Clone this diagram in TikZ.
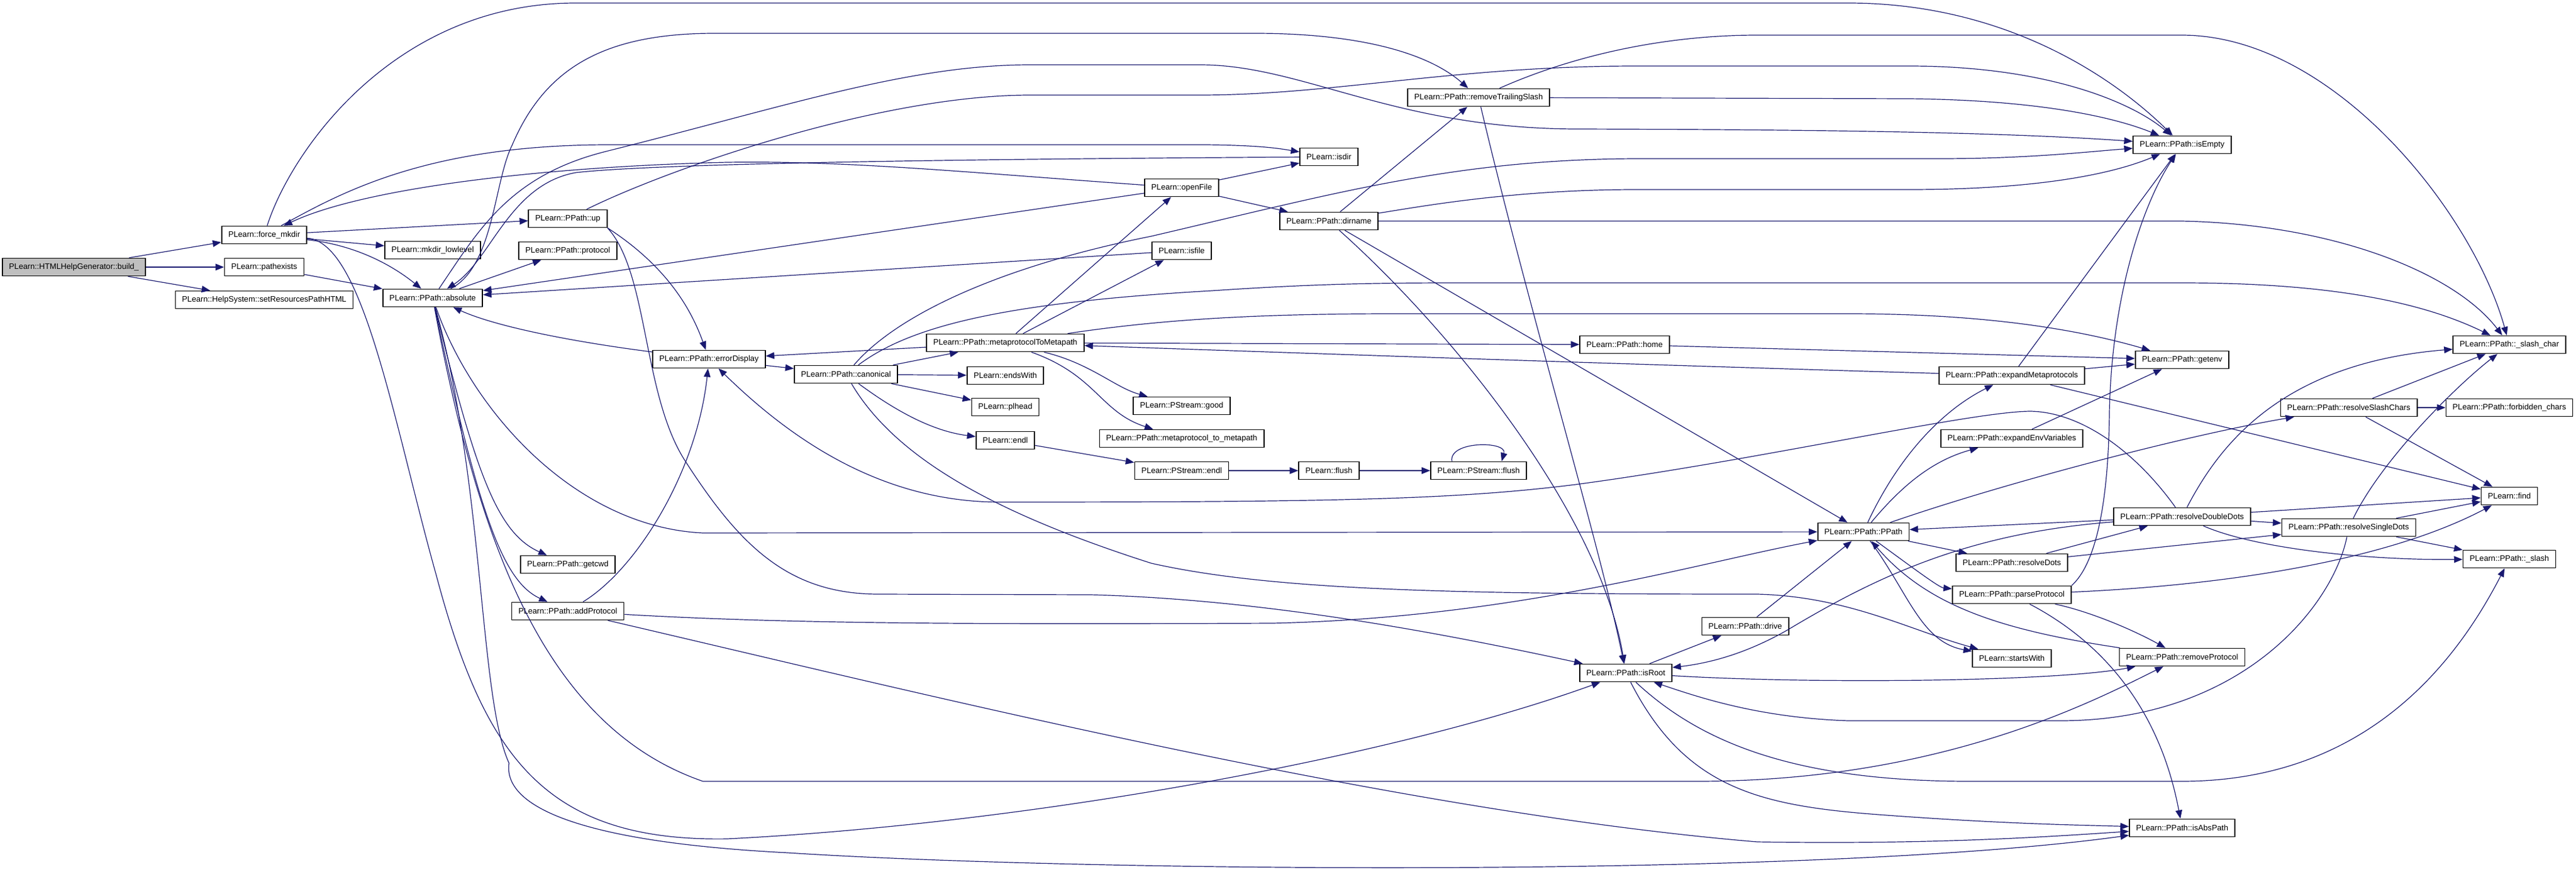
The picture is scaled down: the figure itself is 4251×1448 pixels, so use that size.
\documentclass[tikz,border=0pt]{standalone}
\usepackage{fontspec}
\setmainfont{Liberation Sans}
\usepackage{xcolor}
\usepackage{tikz}
\usetikzlibrary{positioning,arrows.meta}
\definecolor{edgeblue}{HTML}{191970}
\definecolor{rootgray}{HTML}{BFBFBF}
\newcommand{\fnsize}{\fontsize{13.15pt}{15pt}\selectfont}

\begin{document}
\begin{tikzpicture}[x=1pt,y=-1pt,>={Triangle[length=14pt,width=11pt]},
    every node/.style={on grid},
    fn/.style={draw=black,line width=1.7pt,fill=white,minimum height=29pt,inner xsep=11pt,inner ysep=0pt,font=\fnsize},
    root/.style={fn,fill=rootgray},
    call/.style={->,draw=edgeblue,line width=1.2pt}]
    \path[use as bounding box,fill=white] (0,0) rectangle (4251,1448);
    % functions
    \node[root] (B) at (122,441) {PLearn::HTMLHelpGenerator::build\_};
    \node[fn] (FM) at (436,388) {PLearn::force\_mkdir};
    \node[fn,below of=FM,node distance=53pt] (PE) {PLearn::pathexists};
    \node[fn,below of=PE,node distance=54pt] (SR) {PLearn::HelpSystem::setResourcesPathHTML};
    \node[fn] (ML) at (714,413) {PLearn::mkdir\_lowlevel};
    \node[fn,below of=ML,node distance=79pt] (AB) {PLearn::PPath::absolute};
    \node[fn] (UP) at (937,361) {PLearn::PPath::up};
    \node[fn,below of=UP,node distance=53pt] (PR) {PLearn::PPath::protocol};
    \node[fn] (GC) at (937,932) {PLearn::PPath::getcwd};
    \node[fn,below of=GC,node distance=77pt] (AP) {PLearn::PPath::addProtocol};
    \node[fn] (ED) at (1170,593) {PLearn::PPath::errorDisplay};
    \node[fn] (CA) at (1396,618) {PLearn::PPath::canonical};
    \node[fn] (MM) at (1659,566) {PLearn::PPath::metaprotocolToMetapath};
    \node[fn,below of=MM,node distance=54pt] (EW) {PLearn::endsWith};
    \node[fn,below of=EW,node distance=52pt] (PH) {PLearn::plhead};
    \node[fn,below of=PH,node distance=55pt] (EL) {PLearn::endl};
    \node[fn] (OF) at (1950,310) {PLearn::openFile};
    \node[fn,below of=OF,node distance=104pt] (IF) {PLearn::isfile};
    \node[fn] (GD) at (1950,670) {PLearn::PStream::good};
    \node[fn,below of=GD,node distance=54pt] (MT) {PLearn::PPath::metaprotocol\_to\_metapath};
    \node[fn,below of=MT,node distance=53pt] (SE) {PLearn::PStream::endl};
    \node[fn] (ID) at (2193,259) {PLearn::isdir};
    \node[fn,below of=ID,node distance=106pt] (DN) {PLearn::PPath::dirname};
    \node[fn] (FL) at (2193,777) {PLearn::flush};
    \node[fn] (RT) at (2440,161) {PLearn::PPath::removeTrailingSlash};
    \node[fn] (SF) at (2440,777) {PLearn::PStream::flush};
    \node[fn] (HO) at (2681,569) {PLearn::PPath::home};
    \node[fn] (IR) at (2683,1111) {PLearn::PPath::isRoot};
    \node[fn] (DR) at (2880,1034) {PLearn::PPath::drive};
    \node[fn] (PP) at (3075,878) {PLearn::PPath::PPath};
    \node[fn] (EM) at (3320,620) {PLearn::PPath::expandMetaprotocols};
    \node[fn,below of=EM,node distance=104pt] (EV) {PLearn::PPath::expandEnvVariables};
    \node[fn] (RD) at (3320,929) {PLearn::PPath::resolveDots};
    \node[fn,below of=RD,node distance=53pt] (PA) {PLearn::PPath::parseProtocol};
    \node[fn,below of=PA,node distance=105pt] (SW) {PLearn::startsWith};
    \node[fn] (IE) at (3601,239) {PLearn::PPath::isEmpty};
    \node[fn] (GE) at (3601,594) {PLearn::PPath::getenv};
    \node[fn] (DD) at (3601,853) {PLearn::PPath::resolveDoubleDots};
    \node[fn] (RP) at (3601,1085) {PLearn::PPath::removeProtocol};
    \node[fn] (IA) at (3601,1367) {PLearn::PPath::isAbsPath};
    \node[fn] (SC) at (3876,673) {PLearn::PPath::resolveSlashChars};
    \node[fn] (SD) at (3876,871) {PLearn::PPath::resolveSingleDots};
    \node[fn] (SL) at (4141,569) {PLearn::PPath::\_slash\_char};
    \node[fn,below of=SL,node distance=104pt] (FC) {PLearn::PPath::forbidden\_chars};
    \node[fn] (FI) at (4141,819) {PLearn::find};
    \node[fn,below of=FI,node distance=104pt] (SS) {PLearn::PPath::\_slash};
    % calls
    \draw[call] (B) -- (FM);
    \draw[call] (B) -- (PE);
    \draw[call] (B) -- (SR);
    \draw[call] (FM) -- (UP);
    \draw[call] (FM) -- (ML);
    \draw[call] (FM) .. controls (590,405) and (650,440) .. (AB);
    \draw[call] (FM) .. controls (480,250) and (650,5) .. (950,5) -- (3050,5) .. controls (3300,5) and (3480,120) .. (IE);
    \draw[call] (FM) .. controls (560,320) and (700,240) .. (1000,239) -- (1990,239) .. controls (2080,240) and (2110,245) .. (ID);
    \draw[call] (FM) .. controls (600,400) and (650,700) .. (720,950) .. controls (800,1250) and (900,1390) .. (1200,1385) .. controls (1700,1360) and (2300,1250) .. (IR);
    \draw[call] (PE) -- (AB);
    \draw[call] (AB) -- (PR);
    \draw[call] (AB) .. controls (815,440) and (815,300) .. (845,240) .. controls (900,110) and (1000,55) .. (1180,55) -- (2070,55) .. controls (2250,55) and (2360,90) .. (RT);
    \draw[call] (AB) .. controls (790,380) and (840,290) .. (1000,250) .. controls (1300,175) and (1500,107) .. (1700,107) -- (1980,107) .. controls (2150,107) and (2300,212) .. (2600,213) .. controls (3000,214) and (3300,218) .. (IE);
    \draw[call] (AB) .. controls (780,680) and (950,870) .. (1160,880) -- (PP);
    \draw[call] (AB) .. controls (785,780) and (820,880) .. (GC);
    \draw[call] (AB) .. controls (790,850) and (830,960) .. (AP);
    \draw[call] (AB) .. controls (800,800) and (790,1150) .. (840,1260) .. controls (830,1330) and (950,1390) .. (1300,1408) .. controls (1800,1440) and (3000,1450) .. (IA);
    \draw[call] (AB) .. controls (790,900) and (900,1200) .. (1160,1290) -- (2800,1290) .. controls (3200,1290) and (3450,1160) .. (RP);
    \draw[call] (UP.south east) .. controls (1070,420) and (1130,480) .. (ED);
    \draw[call] (UP.south east) .. controls (1070,450) and (1060,650) .. (1130,760) .. controls (1220,900) and (1300,981) .. (1450,981) -- (1800,982) .. controls (2100,990) and (2400,1050) .. (IR);
    \draw[call] (UP) .. controls (1100,280) and (1450,157) .. (1700,157) -- (1980,157) .. controls (2200,157) and (2400,109) .. (2700,109) -- (3150,109) .. controls (3380,109) and (3520,170) .. (IE);
    \draw[call] (AP) .. controls (1050,940) and (1150,780) .. (ED);
    \draw[call] (AP) .. controls (1300,1030) and (1600,1031) .. (2100,1029) .. controls (2500,1020) and (2800,930) .. (PP);
    \draw[call] (AP) .. controls (1500,1140) and (2300,1340) .. (2900,1390) .. controls (3200,1395) and (3400,1380) .. (IA);
    \draw[call] (ED) -- (CA);
    \draw[call] (ED) .. controls (950,565) and (820,540) .. (AB);
    \draw[call] (CA) -- (MM);
    \draw[call] (CA) -- (EW);
    \draw[call] (CA) -- (PH);
    \draw[call] (CA) .. controls (1480,680) and (1540,712) .. (EL);
    \draw[call] (CA) .. controls (1480,760) and (1650,850) .. (1900,930) .. controls (2100,975) and (2400,981) .. (2900,981) .. controls (3050,985) and (3150,1040) .. (SW);
    \draw[call] (CA) .. controls (1480,520) and (1650,440) .. (1900,390) .. controls (2200,320) and (2400,263) .. (2700,262) -- (3200,262) .. controls (3350,262) and (3450,250) .. (IE);
    \draw[call] (CA) .. controls (1500,540) and (1650,500) .. (2000,480) .. controls (2150,470) and (2250,467) .. (2400,467) -- (3600,467) .. controls (3850,467) and (4000,500) .. (SL);
    \draw[call] (MM) -- (OF);
    \draw[call] (MM) -- (IF);
    \draw[call] (MM) .. controls (1900,530) and (2050,518) .. (2300,518) -- (3050,518) .. controls (3300,518) and (3450,550) .. (GE);
    \draw[call] (MM) -- (HO);
    \draw[call] (MM) .. controls (1800,600) and (1840,640) .. (GD);
    \draw[call] (MM) .. controls (1810,620) and (1815,680) .. (MT);
    \draw[call] (MM) -- (ED);
    \draw[call] (EL) -- (SE);
    \draw[call] (SE) -- (FL);
    \draw[call] (FL) -- (SF);
    \draw[call] ([xshift=-44pt]SF.north) .. controls +(-6,-34) and +(10,-34) .. ([xshift=38pt]SF.north);
    \draw[call] (OF) .. controls (1600,285) and (1400,265) .. (1200,268) .. controls (900,275) and (600,310) .. (FM);
    \draw[call] (OF) -- (AB);
    \draw[call] (OF) -- (ID);
    \draw[call] (OF) -- (DN);
    \draw[call] (IF) -- (AB);
    \draw[call] (ID) .. controls (1700,262) and (1100,268) .. (950,285) .. controls (840,305) and (810,430) .. (AB);
    \draw[call] (DN) -- (RT);
    \draw[call] (DN) .. controls (2400,550) and (2640,850) .. (IR);
    \draw[call] (DN) -- (PP);
    \draw[call] (DN) .. controls (2350,340) and (2500,313) .. (2700,313) -- (3150,313) .. controls (3350,313) and (3480,290) .. (IE);
    \draw[call] (DN) -- (3600,365) .. controls (3850,370) and (4050,450) .. (SL);
    \draw[call] (RT) -- (3150,163) .. controls (3350,165) and (3480,190) .. (IE);
    \draw[call] (RT) .. controls (2600,90) and (2750,58) .. (2900,58) -- (3600,58) .. controls (3850,58) and (4080,350) .. (SL);
    \draw[call] (RT) .. controls (2520,500) and (2640,900) .. (IR);
    \draw[call] (HO) -- (GE);
    \draw[call] (IR) -- (DR);
    \draw[call] (IR) .. controls (3000,1130) and (3400,1125) .. (RP);
    \draw[call] (IR) .. controls (2780,1300) and (2900,1330) .. (3100,1345) .. controls (3300,1360) and (3420,1362) .. (IA);
    \draw[call] (IR) .. controls (2800,1220) and (2950,1290) .. (3250,1290) -- (3600,1290) .. controls (3900,1290) and (4050,1100) .. (SS);
    \draw[call] (DR) -- (PP);
    \draw[call] (PP) .. controls (3130,760) and (3200,680) .. (EM);
    \draw[call] (PP) .. controls (3140,800) and (3190,760) .. (EV);
    \draw[call] (PP) -- (RD);
    \draw[call] (PP) .. controls (3160,940) and (3200,970) .. (PA);
    \draw[call] (PP) .. controls (3150,980) and (3170,1060) .. (SW);
    \draw[call] (PP) .. controls (3300,800) and (3600,720) .. (SC);
    \draw[call] (EM) .. controls (2800,605) and (2200,585) .. (MM);
    \draw[call] (EM) -- (GE);
    \draw[call] (EM) -- (IE);
    \draw[call] (EM) -- (FI);
    \draw[call] (EV) -- (GE);
    \draw[call] (RD) -- (DD);
    \draw[call] (RD) -- (SD);
    \draw[call] (PA.north east) .. controls (3470,920) and (3480,780) .. (3481,680) .. controls (3485,480) and (3540,330) .. (IE);
    \draw[call] (PA) .. controls (3700,965) and (3950,920) .. (FI);
    \draw[call] (PA) .. controls (3450,1050) and (3560,1150) .. (IA);
    \draw[call] (PA) .. controls (3450,1010) and (3520,1040) .. (RP);
    \draw[call] (DD) -- (PP);
    \draw[call] (DD) .. controls (3250,880) and (3100,950) .. (2950,1040) .. controls (2880,1080) and (2820,1095) .. (IR);
    \draw[call] (DD) -- (FI);
    \draw[call] (DD) -- (SD);
    \draw[call] (DD) .. controls (3720,905) and (3900,925) .. (SS);
    \draw[call] (DD) .. controls (3660,740) and (3760,600) .. (SL);
    \draw[call] (DD) .. controls (3520,740) and (3430,680) .. (3350,679) .. controls (3250,680) and (2900,760) .. (2600,800) .. controls (2400,825) and (2200,829) .. (1650,829) .. controls (1450,829) and (1300,720) .. (ED);
    \draw[call] (SD) -- (FI);
    \draw[call] (SD) -- (SS);
    \draw[call] (SD) .. controls (3930,760) and (4050,640) .. (SL);
    \draw[call] (SD) .. controls (3850,1000) and (3700,1190) .. (3400,1190) -- (3050,1190) .. controls (2900,1185) and (2800,1150) .. (IR);
    \draw[call] (RP) .. controls (3300,1040) and (3180,1000) .. (PP);
    \draw[call] (SC) -- (SL);
    \draw[call] (SC) -- (FC);
    \draw[call] (SC) -- (FI);
\end{tikzpicture}
\end{document}
